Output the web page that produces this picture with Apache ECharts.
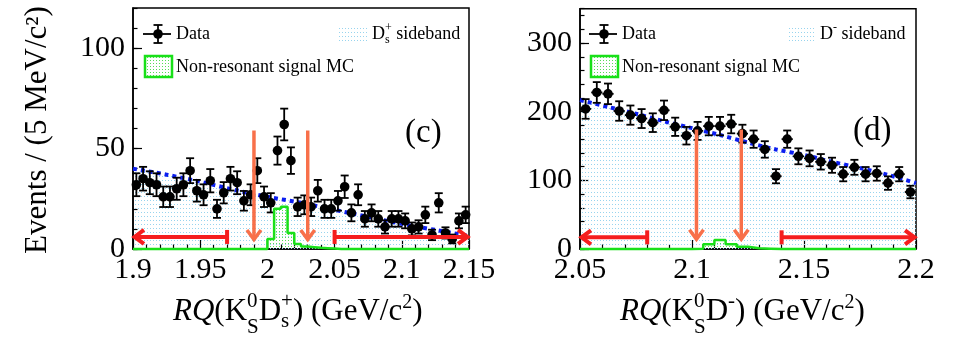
<!DOCTYPE html>
<html><head><meta charset="utf-8">
<script src="https://cdn.jsdelivr.net/npm/echarts@6/dist/echarts.min.js"></script>
<style>html,body{margin:0;padding:0;background:#fff}#c{width:956px;height:339px}</style>
</head><body><div id="c"></div>
<script>
// ---------------- data ----------------
const leftAxisRange = [1.9, 2.15];
const rightAxisRange = [2.05, 2.2];
const leftYRange = [0, 120];
const rightYRange = [0, 350];
const binWidth = 0.005;

// panel (c): K0S Ds+
const leftData = [32,35,33,32,26,26,30,32,39,29,27,34,20,28,35,33,24,27,39,26,23,49,62,44,21,22,21,29,20,20,24,31,18,27,15,18,15,11,15,15,14,10,11,17,7,23,8,5,14,17];
const leftErr  = [5.7,5.9,5.7,5.7,5.1,5.1,5.5,5.7,6.2,5.4,5.2,5.8,4.5,5.3,5.9,5.7,4.9,5.2,6.2,5.1,4.8,7.0,7.9,6.6,4.6,4.7,4.6,5.4,4.5,4.5,4.9,5.6,4.2,5.2,3.9,4.2,3.9,3.3,3.9,3.9,3.7,3.2,3.3,4.1,2.6,4.8,2.8,2.2,3.7,4.1];
const leftBkgX = [1.9, 1.925, 1.95, 1.975, 2.0, 2.025, 2.05, 2.075, 2.1, 2.125, 2.15];
const leftBkgY = [40, 37, 33.5, 29.5, 26, 23, 19.5, 16, 12.5, 9.5, 6.5];
const leftMcStart = 2.0;
const leftMC = [5, 20, 21, 8, 2.5, 1.2, 0.9, 0.6, 0.4, 0.2];
const leftSignalCuts = [1.99, 2.03];
const leftSignalArrowY = [59, 4];
const leftSidebands = [[1.97, 1.9], [2.05, 2.15]];
const leftSidebandY = 6;

// panel (d): K0S D-
const rightData = [204,228,226,201,195,190,184,202,178,165,172,179,179,182,168,160,145,106,160,135,132,127,122,109,119,109,110,96,109,83];
const rightErr  = [14.3,15.1,15.0,14.2,14.0,13.8,13.6,14.2,13.3,12.8,13.1,13.4,13.4,13.5,13.0,12.6,12.0,10.3,12.6,11.6,11.5,11.3,11.0,10.4,10.9,10.4,10.5,9.8,10.4,9.1];
const rightBkgX = [2.05, 2.0625, 2.075, 2.0875, 2.1, 2.1125, 2.125, 2.1375, 2.15, 2.1625, 2.175, 2.1875, 2.2];
const rightBkgY = [217, 207, 197, 186, 176, 166, 155, 145, 137, 127, 118, 108, 96];
const rightMcStart = 2.1;
const rightMC = [0.3, 7, 13, 7, 3.4, 1, 0.5];
const rightSignalCuts = [2.102, 2.122];
const rightSignalArrowY = [174, 12];
const rightSidebands = [[2.08, 2.05], [2.14, 2.2]];
const rightSidebandY = 17;

// ---------------- styling helpers ----------------
const FONT = '"Liberation Serif", "Times New Roman", serif';
function dotPattern(color, w, h) {
  const c = document.createElement('canvas'); c.width = w; c.height = h;
  const g = c.getContext('2d'); g.fillStyle = color; g.fillRect(0, 0, 1, 1);
  return {image: c, repeat: 'repeat'};
}
const blueFill = dotPattern('#98d4ee', 3, 4);
const greenFill = dotPattern('#55dd55', 3, 3);
const GREEN = '#19e019';
const BLUE = '#0b1ef0';
const ORANGE = '#f8704a';
const RED = '#f51e1e';

const mctx = document.createElement('canvas').getContext('2d');
function tw(t, s, it) { mctx.font = (it ? 'italic ' : '') + s + 'px ' + FONT; return mctx.measureText(t).width; }
function textRun(x0, base, parts) {
  const out = []; let x = x0; let pend = 0;
  parts.forEach(p => {
    const w = tw(p.t, p.s, p.it);
    out.push({type: 'text', x: x, y: base + (p.dy || 0) - 0.32 * p.s, z: 100,
      style: {text: p.t, font: (p.it ? 'italic ' : '') + p.s + 'px ' + FONT, fill: '#000', verticalAlign: 'middle', align: 'left'}});
    if (p.stack) { pend = Math.max(pend, w); }
    else { x += Math.max(pend, w) + (p.gap || 0); pend = 0; }
  });
  return out;
}

function histPoints(range, w, start, vals) {
  const n = Math.round((range[1] - range[0]) / w);
  const s = Math.round((start - range[0]) / w);
  const pts = [];
  for (let i = 0; i < n; i++) {
    const v = (i >= s && i < s + vals.length) ? vals[i - s] : 0;
    pts.push([range[0] + i * w, v]);
  }
  pts.push([range[1], 0]);
  return pts;
}

function renderPoints(params, api) {
  const x = api.value(0), y = api.value(1), e = api.value(2);
  const c = api.coord([x, y]);
  const top = api.coord([x, y + e]), bot = api.coord([x, y - e]);
  const l = api.coord([x - binWidth / 2, y]), r = api.coord([x + binWidth / 2, y]);
  const st = {stroke: '#000', lineWidth: 1.8};
  return {type: 'group', children: [
    {type: 'line', shape: {x1: c[0], y1: top[1], x2: c[0], y2: bot[1]}, style: st},
    {type: 'line', shape: {x1: c[0] - 4, y1: top[1], x2: c[0] + 4, y2: top[1]}, style: st},
    {type: 'line', shape: {x1: c[0] - 4, y1: bot[1], x2: c[0] + 4, y2: bot[1]}, style: st},
    {type: 'line', shape: {x1: l[0], y1: c[1], x2: r[0], y2: c[1]}, style: st},
    {type: 'circle', shape: {cx: c[0], cy: c[1], r: 4.8}, style: {fill: '#000'}}
  ]};
}

function renderArrow(color, lw) {
  return function (params, api) {
    const p1 = api.coord([api.value(0), api.value(1)]);
    const p2 = api.coord([api.value(2), api.value(3)]);
    const bar = api.value(4);
    const dx = p2[0] - p1[0], dy = p2[1] - p1[1];
    const L = Math.hypot(dx, dy), ux = dx / L, uy = dy / L, nx = -uy, ny = ux;
    const hl = 11, hw = 7;
    const ch = [
      {type: 'line', shape: {x1: p1[0], y1: p1[1], x2: p2[0] - ux * 2, y2: p2[1] - uy * 2}, style: {stroke: color, lineWidth: lw}},
      {type: 'polyline', shape: {points: [[p2[0] - ux * hl + nx * hw, p2[1] - uy * hl + ny * hw], [p2[0] - ux * 1.5, p2[1] - uy * 1.5], [p2[0] - ux * hl - nx * hw, p2[1] - uy * hl - ny * hw]]},
        style: {stroke: color, lineWidth: lw, fill: null, lineJoin: 'miter'}}
    ];
    if (bar) ch.push({type: 'line', shape: {x1: p1[0] + nx * 7, y1: p1[1] + ny * 7, x2: p1[0] - nx * 7, y2: p1[1] - ny * 7}, style: {stroke: color, lineWidth: lw}});
    return {type: 'group', children: ch};
  };
}

function buildArrows(cuts, yr, sidebands, sy) {
  const vert = cuts.map(c => [c, yr[0], c, yr[1], 0]);
  const hor = sidebands.map(s => [s[0], sy, s[1], sy, 1]);
  return {vert, hor};
}

// ---------------- axes ----------------
function xAxisOf(gi, range) {
  return {type: 'value', gridIndex: gi, min: range[0], max: range[1], interval: 0.05,
    axisLine: {show: true, onZero: false, lineStyle: {color: '#000', width: 1.5}},
    axisTick: {show: true, inside: true, length: 9, lineStyle: {color: '#000', width: 1.2}},
    minorTick: {show: true, splitNumber: 5, length: 4.5, lineStyle: {color: '#000', width: 1.2}},
    splitLine: {show: false}, minorSplitLine: {show: false},
    axisLabel: {color: '#000', fontFamily: FONT, fontSize: 30, margin: 6,
      formatter: v => String(parseFloat(v.toFixed(3)))}};
}
function yAxisOf(gi, range, interval) {
  return {type: 'value', gridIndex: gi, min: range[0], max: range[1], interval: interval,
    axisLine: {show: true, onZero: false, lineStyle: {color: '#000', width: 1.5}},
    axisTick: {show: true, inside: true, length: 9, lineStyle: {color: '#000', width: 1.2}},
    splitLine: {show: false},
    axisLabel: {color: '#000', fontFamily: FONT, fontSize: 30, margin: 8, showMaxLabel: false}};
}
function yMinorOf(gi, range, interval) {
  return {type: 'value', gridIndex: gi, min: range[0], max: range[1], interval: interval, position: 'left', offset: 0,
    axisLine: {show: false}, axisLabel: {show: false}, splitLine: {show: false},
    axisTick: {show: true, inside: true, length: 4.5, lineStyle: {color: '#000', width: 1.2}}};
}

// ---------------- series ----------------
function panelSeries(idx, data, err, bkgX, bkgY, range, mcStart, mc, arrows) {
  const pts = data.map((v, i) => [range[0] + (i + 0.5) * binWidth, v, err[i]]);
  const bkg = bkgX.map((x, i) => [x, bkgY[i]]);
  const ax = {xAxisIndex: idx, yAxisIndex: idx * 2};
  return [
    Object.assign({type: 'line', data: bkg, smooth: 0.3, symbol: 'none', z: 1,
      lineStyle: {width: 0, opacity: 0}, areaStyle: {color: blueFill, opacity: 1}, silent: true}, ax),
    Object.assign({type: 'line', data: bkg, smooth: 0.3, symbol: 'none', z: 2,
      lineStyle: {color: BLUE, width: 4, type: [4, 4], cap: 'butt'}, silent: true}, ax),
    Object.assign({type: 'custom', data: pts, renderItem: renderPoints, z: 3, clip: false}, ax),
    Object.assign({type: 'line', data: histPoints(range, binWidth, mcStart, mc), step: 'end', symbol: 'none', z: 5,
      lineStyle: {color: GREEN, width: 2.5}, areaStyle: {color: greenFill, opacity: 1}, silent: true, clip: false}, ax),
    Object.assign({type: 'custom', data: arrows.vert, renderItem: renderArrow(ORANGE, 3.5), z: 6, clip: false}, ax),
    Object.assign({type: 'custom', data: arrows.hor, renderItem: renderArrow(RED, 4), z: 6, clip: false}, ax)
  ];
}

const leftArrows = buildArrows(leftSignalCuts, leftSignalArrowY, leftSidebands, leftSidebandY);
const rightArrows = buildArrows(rightSignalCuts, rightSignalArrowY, rightSidebands, rightSidebandY);

// ---------------- graphics (legends, labels, titles) ----------------
function dataLegend(cx, cy) {
  const st = {stroke: '#000', lineWidth: 1.8};
  return [
    {type: 'line', shape: {x1: cx - 15, y1: cy, x2: cx + 13, y2: cy}, style: st, z: 100},
    {type: 'line', shape: {x1: cx, y1: cy - 9, x2: cx, y2: cy + 9}, style: st, z: 100},
    {type: 'line', shape: {x1: cx - 4.5, y1: cy - 9, x2: cx + 4.5, y2: cy - 9}, style: st, z: 100},
    {type: 'line', shape: {x1: cx - 4.5, y1: cy + 9, x2: cx + 4.5, y2: cy + 9}, style: st, z: 100},
    {type: 'circle', shape: {cx: cx, cy: cy, r: 4.8}, style: {fill: '#000'}, z: 100}
  ];
}
function panelLegend(x0, sbX, sbParts) {
  return [].concat(
    dataLegend(x0 + 16, 34),
    textRun(x0 + 34, 40, [{t: 'Data', s: 18}]),
    [{type: 'rect', shape: {x: sbX, y: 25, width: 28, height: 18}, style: {fill: blueFill}, z: 100}],
    textRun(sbX + 33, 40, sbParts),
    [{type: 'rect', shape: {x: x0 + 3, y: 56, width: 27, height: 21}, style: {fill: greenFill, stroke: GREEN, lineWidth: 2.5}, z: 100}],
    textRun(x0 + 34, 73, [{t: 'Non-resonant signal MC', s: 18}])
  );
}

const graphics = [].concat(
  // y-axis title
  [{type: 'text', x: 38, y: 130, rotation: Math.PI / 2, z: 100,
    style: {text: 'Events / (5 MeV/c\u00b2)', font: '31px ' + FONT, fill: '#000', align: 'center', verticalAlign: 'middle'}}],
  // x-axis titles
  textRun(173, 322, [
    {t: 'RQ', s: 31, it: true}, {t: '(K', s: 31},
    {t: '0', s: 21, dy: -14, stack: true}, {t: 'S', s: 21, dy: 12},
    {t: 'D', s: 31}, {t: '+', s: 21, dy: -14, stack: true}, {t: 's', s: 21, dy: 6},
    {t: ') (GeV/c', s: 31}, {t: '2', s: 20, dy: -13}, {t: ')', s: 31}
  ]),
  textRun(620, 322, [
    {t: 'RQ', s: 31, it: true}, {t: '(K', s: 31},
    {t: '0', s: 21, dy: -14, stack: true}, {t: 'S', s: 21, dy: 12},
    {t: 'D', s: 31}, {t: '-', s: 21, dy: -14},
    {t: ') (GeV/c', s: 31}, {t: '2', s: 20, dy: -13}, {t: ')', s: 31}
  ]),
  // panel labels
  textRun(405, 144, [{t: '(c)', s: 33}]),
  textRun(853, 142, [{t: '(d)', s: 33}]),
  // legends
  panelLegend(142, 339, [{t: 'D', s: 18}, {t: '+', s: 12, dy: -8, stack: true}, {t: 's', s: 12, dy: 4}, {t: ' sideband', s: 18}]),
  panelLegend(588, 787, [{t: 'D', s: 18}, {t: '-', s: 12, dy: -8}, {t: ' sideband', s: 18}])
);

const option = {
  animation: false,
  backgroundColor: '#fff',
  grid: [
    {left: 133, top: 8, width: 336, height: 241, show: true, borderColor: '#000', borderWidth: 1.5, backgroundColor: 'transparent', containLabel: false, outerBoundsMode: 'none'},
    {left: 580, top: 8.7, width: 336, height: 240.3, show: true, borderColor: '#000', borderWidth: 1.5, backgroundColor: 'transparent', containLabel: false, outerBoundsMode: 'none'}
  ],
  xAxis: [xAxisOf(0, leftAxisRange), xAxisOf(1, rightAxisRange)],
  yAxis: [yAxisOf(0, leftYRange, 50), yMinorOf(0, leftYRange, 10), yAxisOf(1, rightYRange, 100), yMinorOf(1, rightYRange, 20)],
  series: [].concat(
    panelSeries(0, leftData, leftErr, leftBkgX, leftBkgY, leftAxisRange, leftMcStart, leftMC, leftArrows),
    panelSeries(1, rightData, rightErr, rightBkgX, rightBkgY, rightAxisRange, rightMcStart, rightMC, rightArrows)
  ),
  graphic: graphics
};
const chart = echarts.init(document.getElementById('c'));
chart.setOption(option);
</script></body></html>
